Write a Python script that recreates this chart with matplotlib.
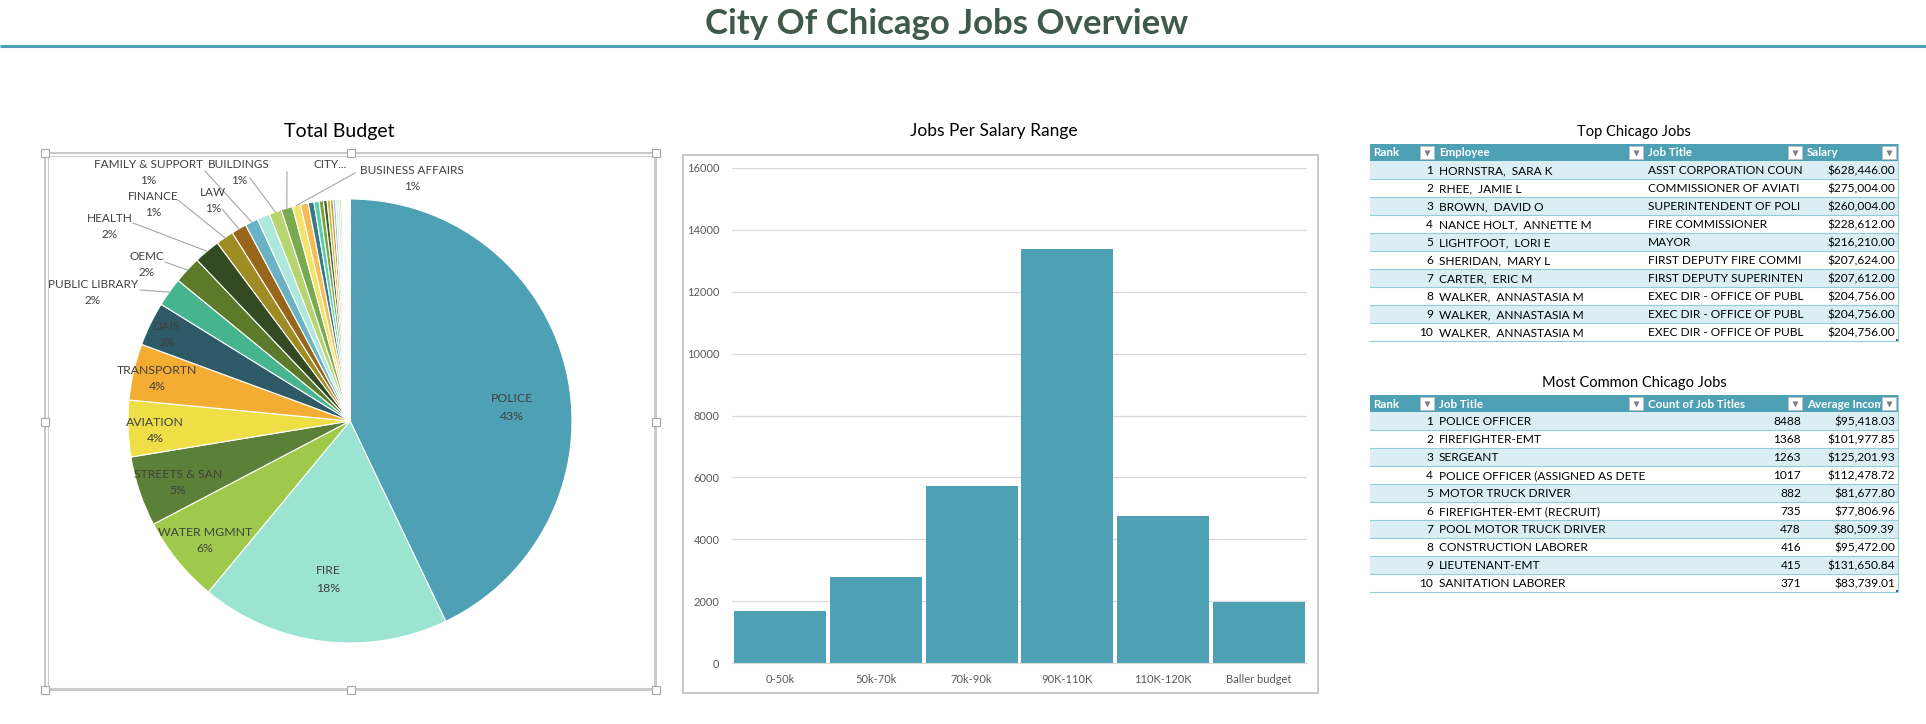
import matplotlib
matplotlib.use('Agg')
import matplotlib.pyplot as plt
from matplotlib.patches import Rectangle
from matplotlib.transforms import Bbox
import numpy as np

plt.rcParams['font.family'] = ['Lato', 'DejaVu Sans']

# ---- data ----
dept_names = ['POLICE', 'FIRE', 'WATER MGMNT', 'STREETS & SAN', 'AVIATION',
              'TRANSPORTN', 'DAIS', 'PUBLIC LIBRARY', 'OEMC', 'HEALTH',
              'FINANCE', 'LAW', 'FAMILY & SUPPORT', '', 'BUILDINGS',
              'CITY...', 'BUSINESS AFFAIRS', '']
dept_budget_pct = [42.9, 18.1, 6.3, 5.1, 4.1,
                   4.1, 3.2, 2.1, 2.0, 1.9,
                   1.3, 1.1, 0.95, 0.93, 0.9,
                   0.83, 0.6, 0.56]
# small unlabeled departments
other_dept_pct = [0.42, 0.37, 0.32, 0.26, 0.23, 0.2, 0.18, 0.16, 0.14, 0.12,
                  0.1, 0.09, 0.08, 0.07, 0.06, 0.05, 0.04, 0.04, 0.03, 0.03,
                  0.02, 0.01]

salary_ranges = ['0-50k', '50k-70k', '70k-90k', '90K-110K', '110K-120K', 'Baller budget']
jobs_per_range = [1695, 2785, 5717, 13390, 4752, 1967]

top_rank = list(range(1, 11))
top_employee = ['HORNSTRA,  SARA K', 'RHEE,  JAMIE L', 'BROWN,  DAVID O',
                'NANCE HOLT,  ANNETTE M', 'LIGHTFOOT,  LORI E', 'SHERIDAN,  MARY L',
                'CARTER,  ERIC M', 'WALKER,  ANNASTASIA M', 'WALKER,  ANNASTASIA M',
                'WALKER,  ANNASTASIA M']
# job titles as far as the cells show them
top_job_title = ['ASST CORPORATION COUN', 'COMMISSIONER OF AVIATI',
                 'SUPERINTENDENT OF POLI', 'FIRE COMMISSIONER', 'MAYOR',
                 'FIRST DEPUTY FIRE COMMI', 'FIRST DEPUTY SUPERINTEN',
                 'EXEC DIR - OFFICE OF PUBL', 'EXEC DIR - OFFICE OF PUBL',
                 'EXEC DIR - OFFICE OF PUBL']
top_salary = [628446.00, 275004.00, 260004.00, 228612.00, 216210.00,
              207624.00, 207612.00, 204756.00, 204756.00, 204756.00]

common_rank = list(range(1, 11))
common_job_title = ['POLICE OFFICER', 'FIREFIGHTER-EMT', 'SERGEANT',
                    'POLICE OFFICER (ASSIGNED AS DETE', 'MOTOR TRUCK DRIVER',
                    'FIREFIGHTER-EMT (RECRUIT)', 'POOL MOTOR TRUCK DRIVER',
                    'CONSTRUCTION LABORER', 'LIEUTENANT-EMT', 'SANITATION LABORER']
common_count = [8488, 1368, 1263, 1017, 882, 735, 478, 416, 415, 371]
common_avg_income = [95418.03, 101977.85, 125201.93, 112478.72, 81677.80,
                     77806.96, 80509.39, 95472.00, 131650.84, 83739.01]

# ---- layout ----
W, H = 1926, 724
TEAL = '#4EA1B5'
TXT = '#404040'

slice_colors = ['#4EA1B5', '#9BE4D1', '#9FC94B', '#5B8139', '#EFDF47', '#F2AD32',
                '#2E5966', '#46B48F', '#5C7A29', '#334A22', '#A08C24', '#97661A',
                '#6AB3C4', '#AEE8DA', '#B4D56F', '#79AA4F', '#F2E36A', '#F5BB55',
                '#3A7789', '#5CCFAD', '#7AA23A', '#405E2C', '#C7B53A', '#C98C22',
                '#8CC4D2', '#C2EFE3', '#C7E095', '#98C276', '#F7EC95', '#F8CD83']

# label text positions in pixels (name line); pct line goes below
inside_labels = {'POLICE': (512, 399), 'FIRE': (328, 571), 'WATER MGMNT': (205, 532),
                 'STREETS & SAN': (178, 474), 'AVIATION': (155, 422),
                 'TRANSPORTN': (157, 370), 'DAIS': (167, 326)}
outside_labels = {'PUBLIC LIBRARY': (93, 284, (140, 290)),
                  'OEMC': (147, 257, (165, 262)),
                  'HEALTH': (110, 218, (133, 223)),
                  'FINANCE': (153, 196, (178, 200)),
                  'LAW': (213, 192, (222, 209)),
                  'FAMILY & SUPPORT': (148, 165, (205, 171)),
                  'BUILDINGS': (239, 165, (250, 178)),
                  'CITY...': (330, 165, (287, 172)),
                  'BUSINESS AFFAIRS': (412, 170, (355, 173))}

PIE_CX, PIE_CY, PIE_R = 350, 421, 222


def frac_rect(x, y, w, h):
    return [x / W, 1 - (y + h) / H, w / W, h / H]


fig = plt.figure(figsize=(W / 100, H / 100), dpi=100)

ax_bg = fig.add_axes([0, 0, 1, 1], zorder=3)
ax_bg.set_xlim(0, W)
ax_bg.set_ylim(H, 0)
ax_bg.axis('off')

# title and rule
ax_bg.text(947, 24, 'City Of Chicago Jobs Overview', ha='center', va='center',
           fontsize=25, fontweight='bold', color='#3F5A4B')
ax_bg.plot([0, W], [46, 46], color=TEAL, lw=2.2, solid_capstyle='butt')


def chart_box(x0, y0, x1, y1, handles=False):
    ax_bg.add_patch(Rectangle((x0, y0), x1 - x0, y1 - y0, fill=False,
                              ec='#BFBFBF', lw=1.2))
    if handles:
        ax_bg.add_patch(Rectangle((x0 + 2.5, y0 + 2.5), x1 - x0 - 5, y1 - y0 - 5,
                                  fill=False, ec='#D0D0D0', lw=0.8))
        xm, ym = (x0 + x1) / 2, (y0 + y1) / 2
        for hx, hy in [(x0, y0), (xm, y0), (x1, y0), (x0, ym), (x1, ym),
                       (x0, y1), (xm, y1), (x1, y1)]:
            ax_bg.add_patch(Rectangle((hx - 4, hy - 4), 8, 8, fc='white',
                                      ec='#A6A6A6', lw=0.8, zorder=4))


# ---- pie chart ----
chart_box(45, 153, 656, 690, handles=True)
ax_bg.text(339, 131, 'Total Budget', ha='center', va='center', fontsize=14, color='black')

values = dept_budget_pct + other_dept_pct
names = dept_names + [''] * len(other_dept_pct)
colors = [slice_colors[i % len(slice_colors)] for i in range(len(values))]
total = sum(values)

ax_pie = fig.add_axes(frac_rect(PIE_CX - PIE_R, PIE_CY - PIE_R, 2 * PIE_R, 2 * PIE_R), zorder=2)
wedges, _ = ax_pie.pie(values, colors=colors, startangle=90, counterclock=False,
                       wedgeprops=dict(edgecolor='white', linewidth=0.8))
ax_pie.set_xlim(-1, 1)
ax_pie.set_ylim(-1, 1)
ax_pie.set_aspect('equal')
ax_pie.axis('off')

for name, val, w in zip(names, values, wedges):
    if not name:
        continue
    pct = f'{round(val / total * 100)}%'
    if name in inside_labels:
        lx, ly = inside_labels[name]
        ax_bg.text(lx, ly, name, ha='center', va='center', fontsize=8.8, color=TXT)
        ax_bg.text(lx, ly + 17, pct, ha='center', va='center', fontsize=8.8, color=TXT)
    elif name in outside_labels:
        lx, ly, (sx, sy) = outside_labels[name]
        ax_bg.text(lx, ly, name, ha='center', va='center', fontsize=8.5, color=TXT)
        if name != 'CITY...':
            ax_bg.text(lx, ly + 16, pct, ha='center', va='center', fontsize=8.5, color=TXT)
        mid = np.deg2rad((w.theta1 + w.theta2) / 2)
        ex = PIE_CX + PIE_R * np.cos(mid)
        ey = PIE_CY - PIE_R * np.sin(mid)
        ax_bg.plot([sx, ex], [sy, ey], color='#A6A6A6', lw=0.8)

# ---- bar chart ----
chart_box(683, 155, 1318, 693)
ax_bg.text(994, 131, 'Jobs Per Salary Range', ha='center', va='center', fontsize=12.5, color='black')

ax_bar = fig.add_axes(frac_rect(732, 168, 575, 495), zorder=2)
ax_bar.bar(range(len(salary_ranges)), jobs_per_range, width=0.96, color=TEAL, zorder=2)
ax_bar.set_xlim(-0.5, len(salary_ranges) - 0.5)
ax_bar.set_ylim(0, 16000)
ax_bar.set_yticks(range(0, 16001, 2000))
ax_bar.set_xticks(range(len(salary_ranges)))
ax_bar.set_xticklabels(salary_ranges)
ax_bar.tick_params(axis='both', length=0, labelsize=8, colors='#595959')
ax_bar.tick_params(axis='y', pad=9)
ax_bar.tick_params(axis='x', pad=8)
ax_bar.grid(axis='y', color='#D9D9D9', lw=0.9, zorder=0)
for s in ['top', 'left', 'right']:
    ax_bar.spines[s].set_visible(False)
ax_bar.spines['bottom'].set_color('#D9D9D9')
ax_bar.set_facecolor('none')

# ---- tables ----
cols = [1370, 1436, 1645, 1804, 1898]
HDR_H, ROW_H = 17, 18


def clip_cell(t, x0, x1, ytop, ybot):
    # ax_bg spans the whole figure at 100 dpi, so display px = x, H - y
    t.set_clip_box(Bbox.from_extents(x0, H - ybot, x1, H - ytop))
    t.set_clip_on(True)


def draw_table(top, title, headers, columns, aligns):
    x0, x1 = cols[0], cols[-1]
    ax_bg.text((x0 + x1) / 2, top - 12, title, ha='center', va='center',
               fontsize=10.5, color='black')
    ax_bg.add_patch(Rectangle((x0, top), x1 - x0, HDR_H, fc=TEAL, ec='none'))
    for j, h in enumerate(headers):
        t = ax_bg.text(cols[j] + 3, top + HDR_H / 2 + 0.5, h, ha='left', va='center',
                       fontsize=8.3, fontweight='bold', color='white', zorder=4)
        clip_cell(t, cols[j], cols[j + 1] - 17, top, top + HDR_H)
        bx = cols[j + 1] - 16
        ax_bg.add_patch(Rectangle((bx, top + 2), 14, HDR_H - 4, fc='white',
                                  ec='#BFBFBF', lw=0.6, zorder=5))
        ax_bg.plot(bx + 7, top + HDR_H / 2, marker='v', ms=4.5, color='#7F7F7F',
                   mec='none', zorder=6)
    n = len(columns[0])
    for i in range(n):
        y0 = top + HDR_H + i * ROW_H
        fc = '#DAEEF3' if i % 2 == 0 else 'white'
        ax_bg.add_patch(Rectangle((x0, y0), x1 - x0, ROW_H, fc=fc, ec='none'))
        ax_bg.plot([x0, x1], [y0 + ROW_H, y0 + ROW_H], color='#92CDDC', lw=0.8)
        for j, colvals in enumerate(columns):
            if aligns[j] == 'right':
                tx, ha = cols[j + 1] - 3, 'right'
            else:
                tx, ha = cols[j] + 3, 'left'
            t = ax_bg.text(tx, y0 + ROW_H / 2 + 0.5, colvals[i], ha=ha, va='center',
                           fontsize=8.6, color='black', zorder=4)
            clip_cell(t, cols[j], cols[j + 1], y0, y0 + ROW_H)
    bottom = top + HDR_H + n * ROW_H
    ax_bg.plot([x1, x1], [top, bottom], color='#92CDDC', lw=0.8)
    ax_bg.add_patch(Rectangle((x1 - 2, bottom - 2), 3, 3, fc='#3B5BA0', ec='none'))


draw_table(144, 'Top Chicago Jobs', ['Rank', 'Employee', 'Job Title', 'Salary'],
           [[str(r) for r in top_rank], top_employee, top_job_title,
            [f'${v:,.2f}' for v in top_salary]],
           ['right', 'left', 'left', 'right'])

draw_table(395, 'Most Common Chicago Jobs',
           ['Rank', 'Job Title', 'Count of Job Titles', 'Average Income'],
           [[str(r) for r in common_rank], common_job_title,
            [str(c) for c in common_count],
            [f'${v:,.2f}' for v in common_avg_income]],
           ['right', 'left', 'right', 'right'])

fig.savefig('out.png', dpi=100)
